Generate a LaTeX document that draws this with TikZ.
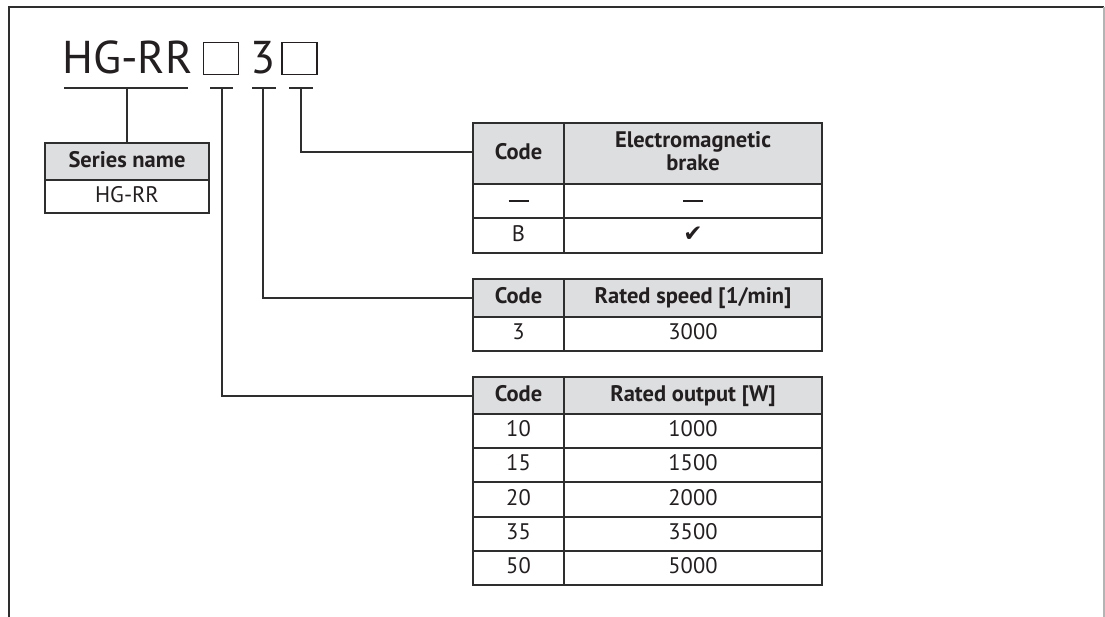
\documentclass[tikz,border=0pt]{standalone}
\usepackage{fontspec}
\setmainfont{PT Sans}
\newfontfamily\symfont{DejaVu Sans}
\definecolor{ink}{HTML}{231F20}
\definecolor{rule}{HTML}{2E2E2E}
\definecolor{headfill}{HTML}{DDDEE0}
\definecolor{rightrule}{HTML}{B4B4B4}
\newcommand{\tfont}{\fontsize{22.5}{24}\selectfont}
\begin{document}
\begin{tikzpicture}[x=1pt,y=-1pt,
  cell/.style={font=\tfont, text=ink, inner sep=0pt, anchor=center, text height=15.5pt, text depth=4pt, align=center},
  hcell/.style={cell, font=\tfont\bfseries},
  outer/.style={draw=rule, line width=2.6pt},
  inner/.style={draw=rule, line width=1.3pt},
  conn/.style={draw=rule, line width=1.3pt},
  head/.style={fill=headfill}]
\useasboundingbox (0,0) rectangle (1105,617);
% frame
\draw[rule, line width=2pt] (9,617) -- (9,7) -- (1104,7);
\draw[rightrule, line width=1.5pt] (1104,7) -- (1104,617);

% title
\node[font=\fontsize{46}{50}\selectfont, text=ink, inner sep=0pt, anchor=base west] (hg) at (62,74) {HG-RR};
\node[draw=ink, line width=1.4pt, minimum width=35pt, minimum height=32pt, inner sep=0pt] (b1) at (221,58.5) {};
\node[font=\fontsize{46}{50}\selectfont, text=ink, inner sep=0pt, anchor=base] (three) at (263,74) {3};
\node[draw=ink, line width=1.4pt, minimum width=35pt, minimum height=32pt, inner sep=0pt] (b2) at (299.5,58.5) {};

% underlines
\draw[conn] (64,88) -- (188,88);
\draw[conn] (210,88) -- (233,88);
\draw[conn] (252,88) -- (276,88);
\draw[conn] (289,88) -- (313,88);
\coordinate (u0) at (127,88);
\coordinate (u1) at (222,88);
\coordinate (u2) at (263,88);
\coordinate (u3) at (301,88);

% series name box
\fill[headfill] (45,143) rectangle (209,180);
\draw[inner] (45,180) -- (209,180);
\draw[outer] (45,143) rectangle (209,213);
\node[hcell] (sn) at (127,161.5) {Series name};
\node[cell] (snv) at (127,196.5) {HG-RR};
\coordinate (sntop) at (127,143);

% brake table
\fill[headfill] (473,123) rectangle (822,184);
\draw[inner] (473,184) -- (822,184);
\draw[inner] (473,218) -- (822,218);
\draw[inner] (564,123) -- (564,253);
\draw[outer] (473,123) rectangle (822,253);
\node[hcell] (bc) at (518.5,153.5) {Code};
\node[hcell, anchor=base] (bh1) at (693,148) {Electromagnetic};
\node[hcell, anchor=base] (bh2) at (693,171) {brake};
\draw[ink, line width=1.2pt] (508.5,201) -- (528.5,201);
\draw[ink, line width=1.2pt] (683,201) -- (703,201);
\coordinate (b1c) at (518.5,201);
\node[cell] (b2c) at (518.5,235.5) {B};
\node[cell, font=\symfont\fontsize{23}{24}\selectfont] (b2v) at (693,235.5) {✔};
\coordinate (bt) at (473,152);

% speed table
\fill[headfill] (473,279) rectangle (822,317);
\draw[inner] (473,317) -- (822,317);
\draw[inner] (564,279) -- (564,351);
\draw[outer] (473,279) rectangle (822,351);
\node[hcell] (sc) at (518.5,298) {Code};
\node[hcell] (sh) at (693,298) {Rated speed [1/min]};
\node[cell] (s1c) at (518.5,334) {3};
\node[cell] (s1v) at (693,334) {3000};
\coordinate (st) at (473,298);

% output table
\fill[headfill] (473,377) rectangle (822,414);
\foreach \yy in {414,448,482,517,551} \draw[inner] (473,\yy) -- (822,\yy);
\draw[inner] (564,377) -- (564,585);
\draw[outer] (473,377) rectangle (822,585);
\node[hcell] (oc) at (518.5,395.5) {Code};
\node[hcell] (oh) at (693,395.5) {Rated output [W]};
\foreach \c/\v/\yy [count=\i] in {10/1000/431,15/1500/465,20/2000/499.5,35/3500/534,50/5000/568}{
  \node[cell] (o\i c) at (518.5,\yy) {\c};
  \node[cell] (o\i v) at (693,\yy) {\v};
}
\coordinate (ot) at (473,396);

% connectors
\draw[conn] (u0) -- (sntop);
\draw[conn] (u1) |- (ot);
\draw[conn] (u2) |- (st);
\draw[conn] (u3) |- (bt);
\end{tikzpicture}
\end{document}
